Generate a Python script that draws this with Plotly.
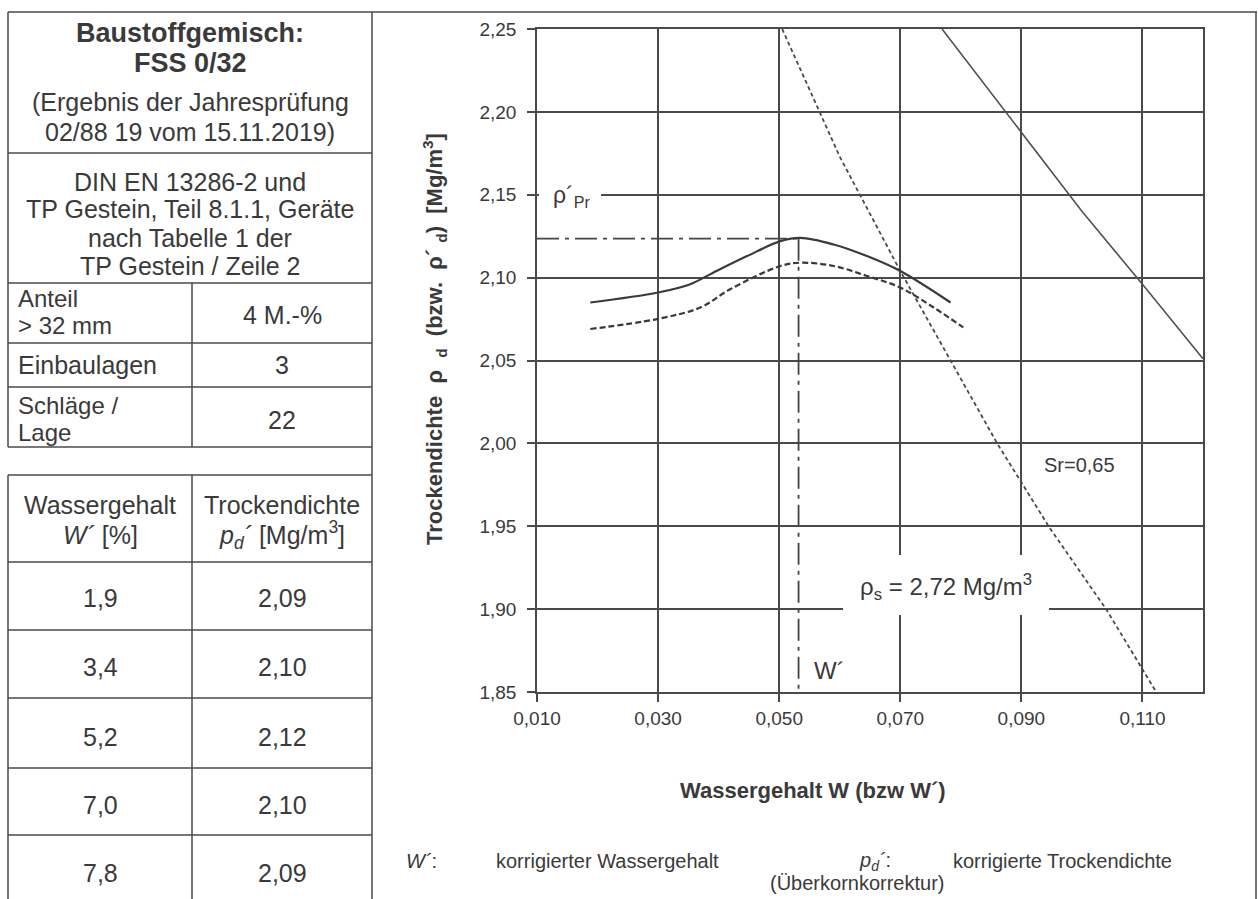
import plotly.graph_objects as go

# ---------------- data ----------------
# left table
wassergehalt_pct = [1.9, 3.4, 5.2, 7.0, 7.8]
trockendichte = [2.09, 2.10, 2.12, 2.10, 2.09]
anteil_label = "4 M.-%"
einbaulagen = "3"
schlaege = "22"

# chart axes
x_tickvals = [0.010, 0.030, 0.050, 0.070, 0.090, 0.110]
x_ticktext = ["0,010", "0,030", "0,050", "0,070", "0,090", "0,110"]
y_tickvals = [1.85, 1.90, 1.95, 2.00, 2.05, 2.10, 2.15, 2.20, 2.25]
y_ticktext = ["1,85", "1,90", "1,95", "2,00", "2,05", "2,10", "2,15", "2,20", "2,25"]

# Proctor curve (measured, solid)
w_curve = [0.0188, 0.0300, 0.0353, 0.0391, 0.0447, 0.0502, 0.0535, 0.0590, 0.0645, 0.0700, 0.0783]
rho_curve = [2.085, 2.091, 2.096, 2.103, 2.113, 2.122, 2.124, 2.120, 2.113, 2.104, 2.085]

# corrected curve (dashed)
w_corr = [0.0188, 0.0298, 0.0370, 0.0419, 0.0502, 0.0535, 0.0590, 0.0645, 0.0700, 0.0755, 0.0804]
rho_corr = [2.069, 2.075, 2.082, 2.093, 2.107, 2.109, 2.107, 2.101, 2.094, 2.082, 2.070]

# saturation line Sr=1 (solid straight)
w_sat1 = [0.0769, 0.0900, 0.1000, 0.1100, 0.1200]
rho_sat1 = [2.250, 2.188, 2.140, 2.096, 2.051]

# saturation line Sr=0,65 (dotted)
w_sat065 = [0.0505, 0.0600, 0.0700, 0.0780, 0.0860, 0.0945, 0.1040, 0.1121]
rho_sat065 = [2.250, 2.173, 2.104, 2.052, 2.000, 1.950, 1.900, 1.851]

# optimum
w_opt = 0.0532
rho_pr = 2.1235

# ---------------- helpers ----------------
W, H = 1258, 899
FONT = "Liberation Sans, Arial, sans-serif"
TXT = "#3a3a3a"
LINE = "#4a4a4a"


def X(px):
    return px / W


def Y(py):
    return 1 - py / H


fig = go.Figure()

fig.add_trace(go.Scatter(x=w_sat1, y=rho_sat1, mode="lines",
                         line=dict(color="#505050", width=1.6), hoverinfo="skip"))
fig.add_trace(go.Scatter(x=w_sat065, y=rho_sat065, mode="lines",
                         line=dict(color="#4a4a4a", width=1.8, dash="4px,3px"), hoverinfo="skip"))
fig.add_trace(go.Scatter(x=[x_tickvals[0], w_opt], y=[rho_pr, rho_pr], mode="lines",
                         line=dict(color="#444", width=1.8, dash="22px,6px,4px,6px"), hoverinfo="skip"))
fig.add_trace(go.Scatter(x=[w_opt, w_opt], y=[rho_pr, y_tickvals[0]], mode="lines",
                         line=dict(color="#444", width=1.8, dash="22px,6px,4px,6px"), hoverinfo="skip"))
fig.add_trace(go.Scatter(x=w_curve, y=rho_curve, mode="lines", line_shape="spline",
                         line=dict(color="#3a3a3a", width=2.2), hoverinfo="skip"))
fig.add_trace(go.Scatter(x=w_corr, y=rho_corr, mode="lines", line_shape="spline",
                         line=dict(color="#3a3a3a", width=2.2, dash="6px,3px"), hoverinfo="skip"))

axis_common = dict(showgrid=True, gridcolor=LINE, gridwidth=1.5, zeroline=False,
                   showline=True, linecolor=LINE, linewidth=1.5, mirror=True,
                   ticks="outside", ticklen=8, tickcolor=LINE, tickwidth=1.5,
                   automargin=False, fixedrange=True,
                   tickfont=dict(family=FONT, size=19, color=TXT))

fig.update_layout(
    width=W, height=H,
    margin=dict(l=0, r=0, t=0, b=0, pad=0),
    paper_bgcolor="white", plot_bgcolor="white",
    showlegend=False,
    xaxis=dict(domain=[X(537), X(1203)], range=[0.010, 0.120], tickvals=x_tickvals,
               ticktext=x_ticktext, **axis_common),
    yaxis=dict(domain=[Y(692), Y(29)], range=[1.85, 2.25], tickvals=y_tickvals,
               ticktext=y_ticktext, ticklabelstandoff=7, **axis_common),
)

shapes = []


def hline(py, x0, x1, w=1.5):
    shapes.append(dict(type="line", xref="paper", yref="paper", x0=X(x0), x1=X(x1),
                       y0=Y(py), y1=Y(py), line=dict(color=LINE, width=w)))


def vline(px, y0, y1, w=1.5):
    shapes.append(dict(type="line", xref="paper", yref="paper", x0=X(px), x1=X(px),
                       y0=Y(y0), y1=Y(y1), line=dict(color=LINE, width=w)))


# page frame
hline(12, 8, 1257)
vline(8, 12, 447)
vline(8, 475, 899)
vline(372, 12, 899)
vline(1256, 12, 899)
# table
for py in [153, 283, 343, 387, 447, 475, 562, 630, 698, 768, 835]:
    hline(py, 8, 372)
vline(192, 283, 447)
vline(192, 475, 899)

# white boxes behind labels in chart
shapes.append(dict(type="rect", xref="paper", yref="paper", x0=X(539), x1=X(601),
                   y0=Y(211), y1=Y(182), fillcolor="white", line=dict(width=0), layer="above"))
shapes.append(dict(type="rect", xref="paper", yref="paper", x0=X(843), x1=X(1049),
                   y0=Y(615), y1=Y(555), fillcolor="white", line=dict(width=0), layer="above"))

fig.update_layout(shapes=shapes)

ann = []


def text(px, py, s, size=25, bold=False, anchor="center", angle=0):
    if bold:
        s = "<b>" + s + "</b>"
    ann.append(dict(xref="paper", yref="paper", x=X(px), y=Y(py), text=s, showarrow=False,
                    xanchor=anchor, yanchor="middle", textangle=angle, borderpad=0,
                    font=dict(family=FONT, size=size, color=TXT)))


# header block
text(190, 33, "Baustoffgemisch:", size=27, bold=True)
text(190, 63, "FSS 0/32", size=27, bold=True)
text(190, 102, "(Ergebnis der Jahresprüfung", size=25)
text(190, 132, "02/88 19 vom 15.11.2019)", size=25)
text(190, 182, "DIN EN 13286-2 und", size=25)
text(190, 209, "TP Gestein, Teil 8.1.1, Geräte", size=25)
text(190, 238, "nach Tabelle 1 der", size=25)
text(190, 266, "TP Gestein / Zeile 2", size=25)

text(17, 298, "Anteil", size=24, anchor="left")
text(17, 325, "> 32 mm", size=24, anchor="left")
text(282, 315, anteil_label, size=25)
text(17, 365, "Einbaulagen", size=25, anchor="left")
text(282, 365, einbaulagen, size=25)
text(17, 405, "Schläge /", size=24, anchor="left")
text(17, 432, "Lage", size=24, anchor="left")
text(282, 420, schlaege, size=25)

text(100, 505, "Wassergehalt", size=25)
text(100, 535, "<i>W´</i> [%]", size=25)
text(282, 505, "Trockendichte", size=25)
text(282, 535, "<i>p<sub>d</sub>´</i> [Mg/m<sup>3</sup>]", size=25)

row_y = [598, 667, 737, 805, 873]
for py, wv, rv in zip(row_y, wassergehalt_pct, trockendichte):
    text(100, py, f"{wv:.1f}".replace(".", ","), size=25)
    text(282, py, f"{rv:.2f}".replace(".", ","), size=25)

# chart labels
text(434, 339, "Trockendichte  ρ  <sub>d</sub>  (bzw.  ρ´ <sub>d</sub>)  [Mg/m<sup>3</sup>]",
     size=22, bold=True, angle=-90)
text(813, 790, "Wassergehalt W (bzw W´)", size=22, bold=True)
text(571, 196, "ρ´<sub>Pr</sub>", size=23)
text(946, 587, "ρ<sub>s</sub> = 2,72 Mg/m<sup>3</sup>", size=24)
text(1079, 465, "Sr=0,65", size=20)
text(829, 670, "W´", size=24)

# footer
text(405, 861, "<i>W´</i>:", size=20, anchor="left")
text(495, 861, "korrigierter Wassergehalt", size=20, anchor="left")
text(858, 861, "<i>p<sub>d</sub>´</i>:", size=20, anchor="left")
text(952, 861, "korrigierte Trockendichte", size=20, anchor="left")
text(857, 883, "(Überkornkorrektur)", size=20)

fig.update_layout(annotations=ann)

fig.write_html("out.html", config={"displayModeBar": False},
               post_script="document.body.style.margin='0';")
